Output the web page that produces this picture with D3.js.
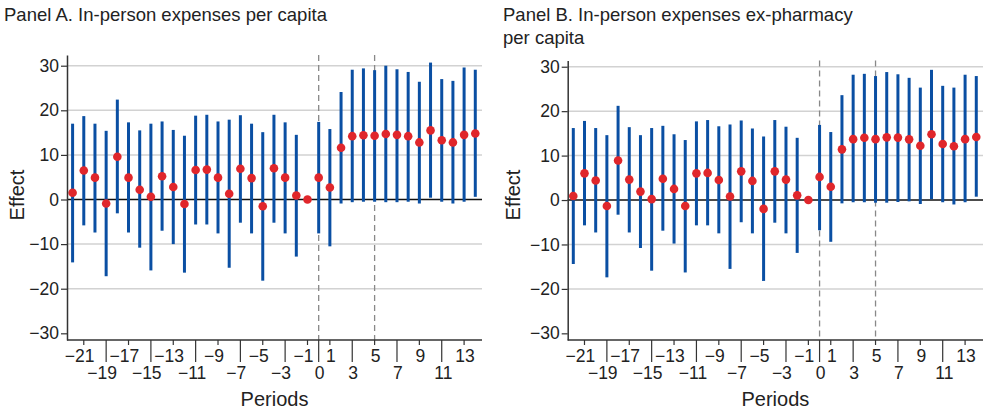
<!DOCTYPE html>
<html>
<head>
<meta charset="utf-8">
<script src="https://cdn.jsdelivr.net/npm/d3@7"></script>
<style>
  body { margin: 0; background: #fff; }
  svg text { font-family: "Liberation Sans", Arial, Helvetica, sans-serif; fill: #222; }
</style>
</head>
<body>
<svg id="chart" width="984" height="412"></svg>
<script>
// event-study periods (reference period -1 has no interval)
const periods = [-22, -21, -20, -19, -18, -17, -16, -15, -14, -13, -12, -11, -10, -9, -8, -7, -6, -5, -4, -3, -2, -1,
  0, 1, 2, 3, 4, 5, 6, 7, 8, 9, 10, 11, 12, 13, 14];

// Panel A: in-person expenses per capita
const estA = [1.5, 6.5, 4.9, -0.9, 9.6, 4.9, 2.2, 0.6, 5.2, 2.8, -1.0, 6.6, 6.7, 4.9, 1.3, 6.9, 4.8, -1.5, 7.0, 4.9, 0.9, 0.0,
  4.9, 2.7, 11.6, 14.2, 14.4, 14.3, 14.7, 14.5, 14.2, 12.8, 15.5, 13.3, 12.8, 14.5, 14.8];
const hiA = [17.0, 18.7, 17.0, 15.4, 22.4, 17.3, 15.5, 17.0, 17.5, 15.6, 14.3, 18.8, 19.0, 17.5, 17.9, 18.9, 17.0, 15.1, 19.0, 17.3, 14.5, null,
  17.4, 15.8, 24.1, 29.1, 29.4, 29.0, 30.0, 29.2, 28.6, 26.4, 30.7, 27.0, 26.6, 29.6, 29.1];
const loA = [-14.1, -5.8, -7.4, -17.2, -3.1, -7.4, -10.8, -15.9, -7.0, -10.0, -16.4, -5.6, -5.6, -7.6, -15.3, -5.2, -7.6, -18.2, -5.2, -7.6, -12.8, null,
  -7.6, -10.5, -0.9, -0.6, -0.5, -0.5, -0.6, -0.6, -0.5, -0.9, 0.4, -0.5, -0.9, -0.5, 0.6];

// Panel B: in-person expenses ex-pharmacy per capita
const estB = [0.9, 6.0, 4.4, -1.35, 8.9, 4.6, 1.9, 0.2, 4.8, 2.5, -1.35, 6.0, 6.1, 4.5, 0.8, 6.45, 4.3, -2.0, 6.45, 4.6, 1.05, 0.0,
  5.2, 3.0, 11.4, 13.7, 14.0, 13.7, 14.1, 14.05, 13.65, 12.2, 14.8, 12.6, 12.1, 13.7, 14.2];
const hiB = [16.2, 17.8, 16.2, 14.6, 21.2, 16.4, 14.6, 16.2, 16.7, 14.8, 13.5, 17.7, 18.0, 16.6, 17.0, 17.9, 16.1, 14.3, 18.0, 16.5, 14.0, null,
  16.9, 15.3, 23.6, 28.2, 28.4, 27.9, 28.8, 28.3, 27.5, 25.3, 29.3, 25.7, 25.3, 28.2, 27.9];
const loB = [-14.4, -5.7, -7.3, -17.4, -3.3, -7.3, -10.8, -15.9, -6.9, -9.8, -16.3, -5.7, -5.7, -7.5, -15.5, -5.0, -7.5, -18.2, -5.1, -7.5, -11.9, null,
  -6.8, -9.4, -0.75, -0.5, -0.5, -0.6, -0.6, -0.45, -0.3, -0.9, 0.2, -0.5, -1.0, -0.5, 0.75];

// axis ticks
const xTicksTop = [-21, -17, -13, -9, -5, -1, 1, 5, 9, 13];
const xTicksBottom = [-19, -15, -11, -7, -3, 0, 3, 7, 11];
const yTicks = [-30, -20, -10, 0, 10, 20, 30];
const gridVals = [-20, -10, 10, 20, 30];
const eventLines = [0, 5];

const svg = d3.select("#chart");
const BLUE = "#0a4fa3";
const RED = "#e0262b";

function drawPanel(opts) {
  const rows = periods.map((p, i) => ({ p: p, est: opts.est[i], hi: opts.hi[i], lo: opts.lo[i] }));
  const g = svg.append("g");

  const x = d3.scaleLinear().domain([-22.5, 14.6]).range([opts.left, opts.right]);
  const y = d3.scaleLinear().domain([-31.5, opts.yMax]).range([340, opts.top]);

  // title
  opts.title.forEach((line, i) => {
    g.append("text")
      .attr("x", opts.titleX)
      .attr("y", 21 + i * 22.5)
      .style("font-size", "18.5px")
      .text(line);
  });

  // gridlines
  g.selectAll(".grid").data(gridVals).join("line")
    .attr("x1", opts.left).attr("x2", opts.right)
    .attr("y1", d => y(d)).attr("y2", d => y(d))
    .attr("stroke", "#d2d2d2").attr("stroke-width", 1.5);

  // zero line
  g.append("line")
    .attr("x1", opts.left).attr("x2", opts.right)
    .attr("y1", y(0)).attr("y2", y(0))
    .attr("stroke", "#111").attr("stroke-width", 1.5);

  // treatment / event lines
  g.selectAll(".evt").data(eventLines).join("line")
    .attr("x1", d => x(d)).attr("x2", d => x(d))
    .attr("y1", opts.top).attr("y2", 340)
    .attr("stroke", "#888").attr("stroke-width", 1.3)
    .attr("stroke-dasharray", "6,4");

  // confidence intervals
  g.selectAll(".ci").data(rows.filter(d => d.hi != null)).join("line")
    .attr("x1", d => x(d.p)).attr("x2", d => x(d.p))
    .attr("y1", d => y(d.lo)).attr("y2", d => y(d.hi))
    .attr("stroke", BLUE).attr("stroke-width", 3);

  // point estimates
  g.selectAll(".pt").data(rows).join("circle")
    .attr("cx", d => x(d.p)).attr("cy", d => y(d.est))
    .attr("r", 4.3)
    .attr("fill", RED);

  // y axis
  const yAxis = g.append("g")
    .attr("transform", `translate(${opts.left},0)`)
    .call(d3.axisLeft(y).tickValues(yTicks).tickSize(6).tickSizeOuter(0).tickPadding(2));
  yAxis.select(".domain").attr("stroke", "#333").attr("stroke-width", 1.5);
  yAxis.selectAll(".tick line").attr("stroke", "#333").attr("stroke-width", 1.2);
  yAxis.selectAll(".tick text").style("font-size", "17.5px").attr("fill", "#222");

  // x axis line
  g.append("line")
    .attr("x1", opts.left).attr("x2", opts.right)
    .attr("y1", 340).attr("y2", 340)
    .attr("stroke", "#333").attr("stroke-width", 1.5);

  // x ticks: two staggered rows, digits centred on the tick, minus hanging left
  const tickRows = [
    { vals: xTicksTop, len: 5, base: 361.5 },
    { vals: xTicksBottom, len: 22, base: 378.5 }
  ];
  tickRows.forEach(row => {
    row.vals.forEach(v => {
      const tx = x(v);
      g.append("line")
        .attr("x1", tx).attr("x2", tx)
        .attr("y1", 340).attr("y2", 340 + row.len)
        .attr("stroke", "#333").attr("stroke-width", 1.2);
      const digitW = String(Math.abs(v)).length * 0.556 * 17.5;
      g.append("text")
        .attr("x", tx + 1 + digitW / 2)
        .attr("y", row.base)
        .attr("text-anchor", "end")
        .style("font-size", "17.5px")
        .text(v < 0 ? "\u2212" + Math.abs(v) : String(v));
    });
  });

  // axis titles
  g.append("text")
    .attr("x", (opts.left + opts.right) / 2)
    .attr("y", 406)
    .attr("text-anchor", "middle")
    .style("font-size", "20px")
    .text("Periods");

  g.append("text")
    .attr("transform", `translate(${opts.yLabelX},195) rotate(-90)`)
    .attr("text-anchor", "middle")
    .style("font-size", "20px")
    .text("Effect");
}

drawPanel({
  est: estA, hi: hiA, lo: loA,
  left: 67, right: 482, top: 55, yMax: 32.4,
  title: ["Panel A. In-person expenses per capita"], titleX: 4,
  yLabelX: 24
});

drawPanel({
  est: estB, hi: hiB, lo: loB,
  left: 567.7, right: 983, top: 60.5, yMax: 31.4,
  title: ["Panel B. In-person expenses ex-pharmacy", "per capita"], titleX: 503,
  yLabelX: 520
});
</script>
</body>
</html>
